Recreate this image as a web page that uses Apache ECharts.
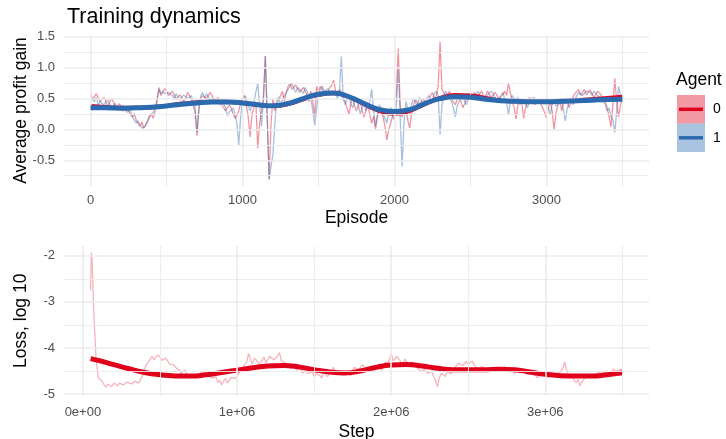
<!DOCTYPE html>
<html>
<head>
<meta charset="utf-8">
<script src="https://cdn.jsdelivr.net/npm/echarts@6/dist/echarts.min.js"></script>
<style>html,body{margin:0;padding:0;background:#fff;}#c{width:726px;height:439px;}</style>
</head>
<body>
<div id="c"></div>
<script>
// ---------- data ----------
// Agent profit gain, every 25 episodes (0..3500), plus in-between readings (12.5 offset)
const episodeStep = 25;
const agent0Profit = [
0.60,0.50,0.55,0.42,0.50,0.40,0.45,0.32,0.38,0.28,0.30,0.20,0.15,0.05,0.02,0.12,0.25,0.30,0.68,0.60,
0.62,0.52,0.60,0.48,0.58,0.50,0.55,0.45,-0.10,0.50,0.58,0.48,0.55,0.42,0.50,0.38,0.28,0.35,0.18,0.30,
0.50,0.40,-0.12,0.35,-0.31,0.30,1.19,-0.81,0.50,0.40,0.55,0.45,0.70,0.65,0.72,0.60,0.68,0.55,0.62,0.22,
0.60,0.65,0.55,0.68,0.80,0.55,0.60,0.45,0.25,0.50,0.30,0.45,0.20,0.40,0.10,0.00,0.35,0.20,-0.17,0.10,
0.30,1.31,0.20,0.35,0.02,0.40,0.50,0.42,0.52,0.45,0.60,0.55,1.42,0.60,0.55,0.50,0.40,0.52,0.35,0.50,
0.55,0.60,0.52,0.62,0.55,0.60,0.50,0.58,0.48,0.62,0.75,0.45,0.17,0.50,0.18,0.45,0.55,0.40,0.50,0.35,
0.18,0.45,0.00,0.40,0.30,0.50,0.35,0.52,0.60,0.55,0.65,0.58,0.62,0.55,0.60,0.50,0.35,0.04,0.83,0.20,0.50];
const agent0ProfitMid = [
0.48,0.58,0.45,0.52,0.38,0.50,0.36,0.42,0.30,0.36,0.24,0.26,0.10,0.12,0.08,0.20,0.18,0.45,0.55,0.66,
0.55,0.62,0.50,0.56,0.46,0.60,0.48,0.30,0.35,0.55,0.50,0.60,0.45,0.52,0.40,0.30,0.40,0.25,0.22,0.42,
0.55,0.20,0.25,0.45,0.10,0.50,0.20,0.10,0.30,0.48,0.62,0.60,0.74,0.62,0.70,0.58,0.66,0.45,0.45,0.70,
0.70,0.58,0.62,0.72,0.62,0.65,0.50,0.35,0.42,0.38,0.40,0.30,0.32,0.25,0.22,0.20,0.28,0.05,0.00,0.22,
0.60,0.40,0.30,0.15,0.25,0.48,0.40,0.50,0.40,0.55,0.50,0.70,0.65,0.52,0.62,0.45,0.48,0.45,0.42,0.58,
0.50,0.55,0.58,0.50,0.62,0.52,0.60,0.50,0.56,0.55,0.60,0.35,0.40,0.42,0.35,0.52,0.45,0.48,0.42,0.28,
0.35,0.30,0.25,0.48,0.42,0.45,0.45,0.58,0.65,0.60,0.56,0.64,0.52,0.62,0.55,0.45,0.20,0.40,0.45,0.40];
const agent1Profit = [
0.55,0.45,0.40,0.48,0.42,0.45,0.38,0.40,0.30,0.35,0.25,0.22,0.10,0.08,0.00,0.15,0.20,0.35,0.65,0.62,
0.55,0.62,0.50,0.55,0.52,0.58,0.48,0.52,-0.05,0.55,0.50,0.55,0.45,0.52,0.40,0.45,0.22,0.30,0.25,-0.25,
0.45,0.50,0.30,0.45,0.75,0.05,1.19,-0.81,-0.40,0.48,0.40,0.55,0.62,0.75,0.60,0.70,0.58,0.65,0.50,0.07,
0.55,0.70,0.60,0.58,0.65,0.50,1.18,0.40,0.55,0.35,0.50,0.25,0.42,0.30,0.65,0.05,0.40,0.25,0.10,0.35,
0.15,0.97,-0.60,0.45,0.25,0.50,0.38,0.48,0.40,0.55,0.50,0.62,-0.08,0.55,0.60,0.45,0.20,0.45,0.55,0.40,
0.58,0.50,0.62,0.55,0.48,0.58,0.60,0.45,0.55,0.50,0.24,0.55,0.45,0.40,0.50,0.35,0.48,0.55,0.42,0.50,
0.40,0.25,0.45,0.35,0.48,0.14,0.45,0.40,0.55,0.62,0.58,0.65,0.55,0.60,0.52,0.45,0.30,0.20,-0.05,0.70,0.45];
const agent1ProfitMid = [
0.50,0.52,0.45,0.40,0.48,0.35,0.42,0.33,0.38,0.28,0.30,0.15,0.14,0.02,0.06,0.22,0.28,0.50,0.58,0.58,
0.60,0.55,0.58,0.48,0.56,0.50,0.55,0.35,0.30,0.60,0.58,0.48,0.50,0.44,0.48,0.35,0.28,0.35,0.10,0.20,
0.55,0.38,0.40,0.60,0.40,0.50,0.20,-0.60,0.10,0.52,0.48,0.60,0.70,0.66,0.68,0.62,0.68,0.55,0.30,0.35,
0.64,0.62,0.66,0.62,0.58,0.60,0.50,0.48,0.42,0.45,0.40,0.35,0.30,0.45,0.30,0.25,0.35,0.18,0.28,0.22,
0.40,0.20,0.10,0.35,0.42,0.45,0.52,0.42,0.50,0.46,0.58,0.55,0.40,0.62,0.50,0.35,0.38,0.50,0.45,0.52,
0.52,0.58,0.54,0.50,0.55,0.62,0.52,0.50,0.60,0.45,0.45,0.50,0.52,0.46,0.42,0.45,0.52,0.48,0.48,0.45,
0.35,0.40,0.38,0.42,0.30,0.35,0.50,0.48,0.60,0.55,0.62,0.60,0.62,0.55,0.50,0.40,0.35,0.15,0.30,0.55];
const smoothStep = 100;
const agent0Smooth = [0.38,0.365,0.35,0.35,0.36,0.385,0.42,0.44,0.455,0.45,0.43,0.40,0.38,0.41,0.49,0.56,0.585,0.53,0.41,0.30,
0.255,0.30,0.41,0.51,0.56,0.55,0.51,0.47,0.455,0.45,0.45,0.46,0.475,0.49,0.51,0.53];
const agent1Smooth = [0.35,0.35,0.345,0.35,0.36,0.38,0.41,0.43,0.445,0.445,0.43,0.40,0.385,0.42,0.50,0.57,0.59,0.53,0.42,0.32,
0.29,0.32,0.42,0.50,0.53,0.52,0.49,0.465,0.455,0.45,0.45,0.455,0.465,0.475,0.485,0.49];

// Loss (log10) by training step
const lossHeadSteps = [50000,55000,60000,70000,85000,100000];
const lossHead = [-2.75,-1.93,-2.10,-3.20,-4.20,-4.65];
const lossBodyStart = 125000, lossBodyStep = 25000;
const lossBody = [
-4.72,-4.85,-4.80,-4.76,-4.82,-4.74,-4.78,-4.72,-4.76,-4.70,-4.72,-4.45,-4.32,-4.18,-4.22,-4.20,-4.30,-4.28,-4.38,-4.42,
-4.48,-4.52,-4.58,-4.65,-4.55,-4.62,-4.58,-4.52,-4.60,-4.68,-4.75,-4.80,-4.66,-4.72,-4.60,-4.62,-4.50,-4.45,-4.12,-4.35,
-4.25,-4.38,-4.20,-4.28,-4.15,-4.30,-4.10,-4.25,-4.35,-4.45,-4.40,-4.50,-4.55,-4.48,-4.58,-4.62,-4.52,-4.65,-4.55,-4.60,
-4.42,-4.58,-4.50,-4.62,-4.55,-4.48,-4.40,-4.45,-4.38,-4.50,-4.42,-4.48,-4.40,-4.45,-4.35,-4.12,-4.30,-4.20,-4.35,-4.28,
-4.38,-4.32,-4.45,-4.52,-4.48,-4.58,-4.62,-4.84,-4.55,-4.62,-4.50,-4.48,-4.38,-4.30,-4.42,-4.35,-4.28,-4.40,-4.45,-4.38,
-4.50,-4.42,-4.48,-4.40,-4.45,-4.52,-4.42,-4.55,-4.48,-4.58,-4.50,-4.62,-4.55,-4.65,-4.52,-4.60,-4.68,-4.55,-4.62,-4.52,
-4.30,-4.58,-4.62,-4.75,-4.82,-4.68,-4.62,-4.55,-4.60,-4.52,-4.56,-4.50,-4.55,-4.48,-4.52,-4.50];
const lossBodyMid = [
-4.80,-4.78,-4.84,-4.80,-4.76,-4.80,-4.74,-4.78,-4.72,-4.76,-4.60,-4.36,-4.24,-4.26,-4.15,-4.27,-4.22,-4.35,-4.36,-4.46,
-4.55,-4.48,-4.62,-4.58,-4.60,-4.55,-4.50,-4.58,-4.66,-4.62,-4.70,-4.72,-4.76,-4.64,-4.66,-4.55,-4.42,-4.30,-4.25,-4.22,
-4.32,-4.26,-4.32,-4.18,-4.26,-4.18,-4.28,-4.32,-4.40,-4.38,-4.48,-4.44,-4.50,-4.55,-4.52,-4.56,-4.60,-4.52,-4.62,-4.50,
-4.52,-4.48,-4.58,-4.52,-4.60,-4.42,-4.48,-4.36,-4.46,-4.44,-4.50,-4.38,-4.48,-4.30,-4.25,-4.28,-4.18,-4.30,-4.24,-4.35,
-4.30,-4.40,-4.42,-4.46,-4.55,-4.50,-4.70,-4.65,-4.58,-4.52,-4.56,-4.42,-4.33,-4.38,-4.30,-4.32,-4.36,-4.48,-4.40,-4.46,
-4.45,-4.46,-4.42,-4.48,-4.40,-4.46,-4.50,-4.50,-4.54,-4.52,-4.58,-4.56,-4.60,-4.58,-4.58,-4.64,-4.60,-4.60,-4.55,-4.45,
-4.48,-4.55,-4.70,-4.68,-4.74,-4.60,-4.58,-4.62,-4.54,-4.50,-4.52,-4.54,-4.46,-4.50,-4.46];
const lossSmoothSteps = [50000,100000,200000,300000,400000,500000,600000,700000,800000,900000,1000000,1100000,1200000,1300000,1400000,1500000,1600000,1700000,1800000,1900000,
2000000,2100000,2200000,2300000,2400000,2500000,2600000,2700000,2800000,2900000,3000000,3100000,3200000,3300000,3400000,3500000];
const lossSmooth = [-4.23,-4.27,-4.36,-4.45,-4.53,-4.58,-4.605,-4.61,-4.58,-4.53,-4.48,-4.43,-4.39,-4.38,-4.41,-4.47,-4.52,-4.54,-4.50,-4.42,
-4.37,-4.36,-4.39,-4.44,-4.47,-4.47,-4.47,-4.46,-4.47,-4.52,-4.57,-4.60,-4.61,-4.61,-4.58,-4.54];

const episodeTicks = [0,1000,2000,3000];
const episodeMinor = [500,1500,2500,3500];
const profitTicks = [-0.5,0,0.5,1,1.5];
const profitMinor = [-0.75,-0.25,0.25,0.75,1.25];
const stepTicks = [0,1000000,2000000,3000000];
const stepMinor = [500000,1500000,2500000,3500000];
const lossTicks = [-5,-4,-3,-2];
const lossMinor = [-4.5,-3.5,-2.5];
const agentLabels = ['0','1'];

// ---------- build ----------
const RED = '#E0001C', BLUE = '#2B6AAE', GRID = '#EBEBEB';
const FONT = 'Liberation Sans';
function weave(main, mid, start, step){
  const out = [];
  main.forEach((v,i)=>{
    out.push([start + i*step, v]);
    if (i < mid.length && i < main.length-1) out.push([start + (i+0.5)*step, mid[i]]);
  });
  return out;
}
const pair = (step, arr) => arr.map((v,i)=>[i*step, v]);
const lossData = lossHeadSteps.map((s,i)=>[s,lossHead[i]]).concat(weave(lossBody, lossBodyMid, lossBodyStart, lossBodyStep));

function gridSeries(xi, xs, ys, w){
  return {
    type:'line', xAxisIndex:xi, yAxisIndex:xi, data:[], z:1, silent:true,
    markLine:{ silent:true, symbol:'none', label:{show:false}, animation:false,
      lineStyle:{color:GRID, width:w, type:'solid'},
      data: xs.map(v=>({xAxis:v})).concat(ys.map(v=>({yAxis:v}))) }
  };
}

const axisLabelStyle = {color:'#4D4D4D', fontSize:13, fontFamily:FONT};
const nameStyle = {color:'#000', fontSize:17.5, fontFamily:FONT};

const option = {
  animation:false,
  backgroundColor:'#fff',
  title:{text:'Training dynamics', left:67, top:6.5, padding:0, textStyle:{fontSize:21.5, fontWeight:'normal', color:'#000', fontFamily:FONT}},
  grid:[
    {left:64, top:35, width:585, height:151, outerBoundsMode:'none', containLabel:false},
    {left:64, top:246, width:585, height:149.5, outerBoundsMode:'none', containLabel:false}
  ],
  xAxis:[
    {type:'value', gridIndex:0, min:-175, max:3675, splitLine:{show:false}, axisLine:{show:false}, axisTick:{show:false},
     axisLabel:Object.assign({customValues:episodeTicks, margin:8, formatter:v=>String(v)}, axisLabelStyle),
     name:'Episode', nameLocation:'middle', nameGap:23, nameMoveOverlap:false, nameTextStyle:nameStyle},
    {type:'value', gridIndex:1, min:-122500, max:3672500, splitLine:{show:false}, axisLine:{show:false}, axisTick:{show:false},
     axisLabel:Object.assign({customValues:stepTicks, margin:10, formatter:v=> v===0?'0e+00':(v/1e6)+'e+06'}, axisLabelStyle),
     name:'Step', nameLocation:'middle', nameGap:27.5, nameMoveOverlap:false, nameTextStyle:nameStyle}
  ],
  yAxis:[
    {type:'value', gridIndex:0, min:-0.917, max:1.531, splitLine:{show:false}, axisLine:{show:false}, axisTick:{show:false},
     axisLabel:Object.assign({customValues:profitTicks, margin:9, formatter:v=>v.toFixed(1)}, axisLabelStyle),
     name:'Average profit gain', nameLocation:'middle', nameGap:34, nameMoveOverlap:false, nameTextStyle:nameStyle},
    {type:'value', gridIndex:1, min:-5.03, max:-1.79, splitLine:{show:false}, axisLine:{show:false}, axisTick:{show:false},
     axisLabel:Object.assign({customValues:lossTicks, margin:9, formatter:v=>String(v)}, axisLabelStyle),
     name:'Loss, log 10', nameLocation:'middle', nameGap:34, nameMoveOverlap:false, nameTextStyle:nameStyle}
  ],
  series:[
    gridSeries(0, episodeMinor, profitMinor, 0.9),
    gridSeries(0, episodeTicks, profitTicks, 1.6),
    gridSeries(1, stepMinor, lossMinor, 0.9),
    gridSeries(1, stepTicks, lossTicks, 1.6),
    {type:'line', xAxisIndex:0, yAxisIndex:0, data:weave(agent0Profit, agent0ProfitMid, 0, episodeStep), showSymbol:false, z:3,
     lineStyle:{color:RED, width:1.3, opacity:0.42}},
    {type:'line', xAxisIndex:0, yAxisIndex:0, data:weave(agent1Profit, agent1ProfitMid, 0, episodeStep), showSymbol:false, z:3,
     lineStyle:{color:BLUE, width:1.3, opacity:0.42}},
    {type:'line', xAxisIndex:0, yAxisIndex:0, data:pair(smoothStep, agent0Smooth), showSymbol:false, smooth:true, z:4,
     lineStyle:{color:RED, width:4}},
    {type:'line', xAxisIndex:0, yAxisIndex:0, data:pair(smoothStep, agent1Smooth), showSymbol:false, smooth:true, z:5,
     lineStyle:{color:BLUE, width:5}},
    {type:'line', xAxisIndex:1, yAxisIndex:1, data:lossData, showSymbol:false, z:3,
     lineStyle:{color:RED, width:1.3, opacity:0.3}},
    {type:'line', xAxisIndex:1, yAxisIndex:1, data:lossSmoothSteps.map((s,i)=>[s,lossSmooth[i]]), showSymbol:false, smooth:true, z:4,
     lineStyle:{color:RED, width:5}}
  ],
  graphic:[
    {type:'text', left:676, top:71, style:{text:'Agent', fontSize:17.5, fill:'#000', fontFamily:FONT}},
    {type:'rect', shape:{x:677, y:95, width:28, height:28.5}, style:{fill:'rgba(224,0,28,0.4)'}},
    {type:'rect', shape:{x:677, y:123.5, width:28, height:28.5}, style:{fill:'rgba(43,106,174,0.4)'}},
    {type:'line', shape:{x1:679, y1:109.3, x2:703, y2:109.3}, style:{stroke:RED, lineWidth:3.5}},
    {type:'line', shape:{x1:679, y1:137.8, x2:703, y2:137.8}, style:{stroke:BLUE, lineWidth:3.5}},
    {type:'text', x:713, y:109.5, style:{text:agentLabels[0], fontSize:14, fill:'#000', fontFamily:FONT, verticalAlign:'middle'}},
    {type:'text', x:713, y:138, style:{text:agentLabels[1], fontSize:14, fill:'#000', fontFamily:FONT, verticalAlign:'middle'}}
  ]
};
const chart = echarts.init(document.getElementById('c'), null, {renderer:'canvas'});
chart.setOption(option);
</script>
</body>
</html>
